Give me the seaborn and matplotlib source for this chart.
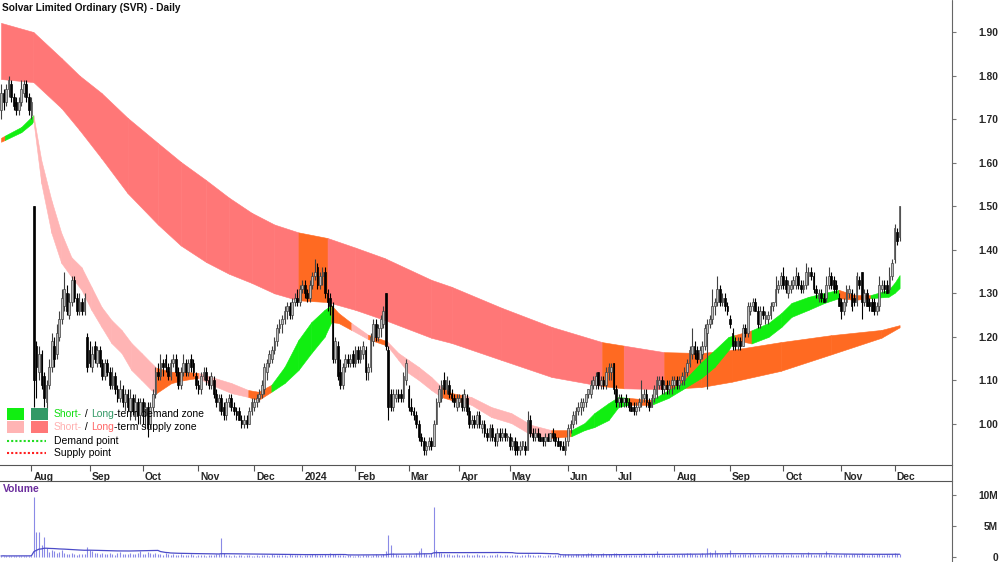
import matplotlib
matplotlib.use("Agg")
import matplotlib.pyplot as plt
import matplotlib.transforms as mtransforms
import numpy as np
import pandas as pd
import seaborn as sns
from matplotlib.lines import Line2D
from matplotlib.offsetbox import AnnotationBbox, HPacker, TextArea
from matplotlib.patches import Rectangle

sns.set_theme(style="white")
plt.rcParams["font.family"] = ["Liberation Sans", "DejaVu Sans"]

TITLE = "Solvar Limited Ordinary (SVR) - Daily"
START = "2023-07-14"
HOLIDAYS = ["2023-12-25", "2023-12-26", "2024-01-01", "2024-01-26",
            "2024-03-29", "2024-04-01", "2024-04-25", "2024-06-10"]

# daily prices in cents
OPEN = [172,176,174,177,178,175,174,172,174,176, 178,175,171,150,118,112,116,111,105,109,
        113,118,116,120,124,127,130,125,128,133, 129,126,128,126,120,117,113,118,114,117,
        114,111,114,112,109,111,108,106,108,105, 107,103,106,103,105,102,105,102,104,100,
        104,107,112,111,114,115,113,111,114,115, 112,109,112,114,112,115,114,111,109,108,
        111,112,110,109,110,107,105,106,104,102, 105,106,104,103,103,101,100,101,100,103,
        104,105,106,107,108,112,114,115,117,119, 122,123,124,126,127,125,128,129,128,131,
        132,130,129,132,134,136,132,134,135,130, 129,127,115,118,112,109,113,115,114,116,
        114,117,115,116,117,112,113,119,123,120, 122,123,130,117,107,104,106,107,107,106,
        110,108,104,103,102,100,97,96,94,95, 96,95,100,105,106,110,108,109,107,106,
        104,105,106,104,106,103,100,101,100,102, 99,100,98,97,99,97,96,98,97,98,
        97,97,95,96,95,94,95,95,94,101, 98,97,98,97,97,96,97,96,98,97,
        96,96,95,94,96,99,100,101,103,104, 104,105,107,107,109,109,112,109,110,109,
        112,112,114,108,105,106,105,106,105,104, 104,103,104,105,106,107,105,104,106,107,
        109,110,108,109,108,109,109,110,109,110, 110,112,114,116,118,117,115,116,118,121,
        123,124,127,128,131,128,129,127,124,121, 119,118,119,118,122,121,126,127,128,126,
        123,126,124,124,125,127,128,131,132,134, 133,130,131,132,132,134,132,131,132,134,
        135,134,131,129,130,129,129,132,134,133, 132,129,128,126,128,130,130,129,128,133,
        135,128,130,128,128,128,126,127,131,132, 132,131,134,138,144,143]
HIGH = [178,177,178,180,179,176,175,175,179,179, 179,176,175,150,119,118,117,112,110,115,
        121,120,123,126,131,135,132,130,134,134, 130,130,129,130,121,119,118,119,118,118,
        115,115,115,113,113,112,109,110,109,108, 108,108,107,107,106,106,106,105,105,105,
        108,113,114,116,115,116,114,115,116,116, 113,113,116,115,115,116,115,112,110,112,
        113,113,111,112,111,108,107,107,105,106, 107,107,105,104,104,102,102,102,104,106,
        106,107,108,110,114,115,117,118,120,123, 124,125,127,128,128,129,130,131,132,133,
        133,131,133,135,138,137,135,136,136,131, 130,128,120,119,115,114,116,116,116,117,
        118,118,118,119,118,114,121,124,124,123, 125,127,130,118,108,108,108,108,108,112,
        115,109,106,104,103,101,98,97,96,97, 97,101,106,109,110,112,111,110,108,107,
        107,107,107,108,107,104,102,102,103,103, 101,101,99,100,100,98,99,99,99,99,
        98,98,97,97,96,96,96,96,103,102, 99,99,99,98,97,98,98,98,99,98,
        97,96,96,97,100,101,103,104,105,106, 106,107,108,110,111,112,112,111,111,113,
        114,114,114,109,107,107,106,107,106,105, 105,105,106,110,108,108,106,107,109,111,
        111,111,110,110,110,111,111,111,111,112, 113,115,118,122,119,118,118,119,123,124,
        125,131,129,134,132,130,130,128,125,122, 120,120,120,123,123,128,128,129,129,127,
        127,127,126,126,128,128,134,133,135,136, 134,133,133,134,136,135,133,133,137,136,
        136,135,132,131,131,130,134,136,135,134, 133,130,129,129,132,132,131,130,135,134,
        135,131,131,129,129,129,128,134,133,133, 133,136,138,146,145,150]
LOW = [170,172,173,175,174,172,171,171,173,175, 174,171,170,104,106,110,108,104,103,108,
       112,113,115,119,123,126,125,124,127,128, 125,125,125,125,112,113,112,114,113,113,
       110,110,111,108,108,107,105,105,104,103, 103,101,102,101,100,100,100,99,97,99,
       103,106,110,110,111,112,110,110,113,111, 108,108,111,111,111,112,111,108,107,107,
       110,109,108,108,106,104,103,102,101,101, 104,103,102,101,101,99,99,99,100,102,
       103,104,105,106,107,110,113,114,116,118, 121,121,123,124,124,124,127,127,127,130,
       129,128,128,131,133,131,131,132,129,126, 125,114,114,110,108,108,112,113,113,113,
       113,114,114,115,110,110,112,118,119,119, 120,122,117,101,103,103,105,105,105,105,
       109,103,102,101,99,96,95,93,93,94, 94,95,100,104,105,107,107,106,105,104,
       103,104,103,103,102,99,99,99,99,99, 98,97,96,96,96,95,95,96,96,96,
       96,94,94,93,93,93,94,93,94,97, 96,96,96,96,95,95,96,96,96,95,
       95,94,94,93,95,98,99,100,102,102, 103,104,106,106,108,108,108,108,108,108,
       110,110,107,104,104,104,104,104,103,103, 102,102,103,104,105,104,103,104,105,106,
       108,107,107,107,107,107,108,108,108,109, 109,111,113,115,115,114,114,115,117,108,
       122,123,125,127,127,127,126,125,122,117, 117,117,117,118,120,120,125,126,126,122,
       122,124,123,123,124,126,127,130,131,131, 130,129,130,131,131,131,130,130,131,132,
       133,130,129,128,128,128,128,131,131,130, 130,127,124,125,127,129,126,127,127,131,
       124,127,127,126,126,125,125,126,130,130, 130,130,133,137,141,142]
CLOSE = [176,174,177,179,175,173,172,174,177,178, 175,172,174,110,113,116,109,106,109,113,
         119,115,121,124,129,131,126,128,133,129, 126,128,126,129,113,114,116,115,117,114,
         111,114,112,109,111,108,106,108,105,107, 104,106,103,105,102,105,103,104,100,104,
         107,112,111,114,113,113,111,114,115,112, 109,112,114,112,114,113,112,109,108,111,
         112,110,109,111,107,105,106,103,102,105, 106,104,103,102,101,100,101,100,103,105,
         105,106,107,109,113,114,116,117,119,122, 123,124,126,127,125,128,129,128,131,132,
         130,129,132,134,135,132,134,135,130,128, 127,115,119,111,109,113,115,114,115,114,
         117,115,117,118,112,113,120,123,120,122, 124,126,118,104,104,107,107,106,106,111,
         114,104,103,102,100,97,96,94,95,96, 95,100,105,108,109,108,110,107,106,105,
         106,106,104,107,103,100,101,100,102,100, 100,98,97,99,97,96,98,97,98,97,
         97,95,96,94,94,95,96,94,101,98, 97,98,97,96,96,97,96,98,97,96,
         95,95,94,96,99,100,102,103,104,105, 105,107,108,109,110,111,109,110,109,112,
         113,113,108,105,106,105,106,105,104,103, 103,104,105,107,107,105,104,106,108,110,
         110,108,109,108,109,110,110,109,110,111, 112,114,117,118,116,115,117,118,122,123,
         124,127,128,131,128,129,127,126,123,118, 118,119,118,122,121,127,127,128,126,123,
         126,125,125,125,127,128,131,132,134,132, 131,132,132,133,134,132,131,132,135,135,
         134,131,130,130,129,128,132,134,132,131, 131,127,126,128,131,131,127,128,134,132,
         128,130,127,127,126,126,127,132,132,131, 130,134,137,145,142,150]

# daily volume, in units of 10,000 shares
VOLUME = [18,22,15,20,25,17,14,21,19,23, 16,20,24,970,410,400,190,320,150,85,
          120,95,60,80,110,70,55,45,60,50, 40,55,45,50,160,110,90,70,60,55,
          65,50,45,70,55,40,60,75,50,45, 55,60,50,45,70,90,55,50,80,60,
          55,70,45,50,40,60,45,35,50,40, 30,45,35,40,30,50,35,25,40,30,
          35,25,30,40,35,45,55,300,70,40, 30,25,35,20,30,40,25,30,35,20,
          25,30,20,35,40,30,25,45,35,30, 40,30,35,25,45,30,40,35,30,25,
          35,40,30,45,50,35,40,30,45,40, 60,55,45,35,30,40,25,35,30,25,
          20,30,25,35,30,40,25,30,45,40, 35,50,90,360,200,60,45,35,30,40,
          35,45,30,40,60,100,140,70,50,40, 60,810,120,80,60,50,45,55,40,35,
          45,30,40,35,50,40,30,35,45,40, 30,35,25,40,30,35,45,30,25,35,
          30,25,35,40,30,25,35,30,45,40, 30,25,35,30,20,25,30,35,25,30,
          40,30,35,45,50,40,35,45,50,40, 55,45,60,70,50,40,55,45,60,50,
          45,55,60,70,50,40,35,45,30,40, 35,30,40,45,60,40,35,45,50,90,
          40,35,45,30,40,35,50,45,40,55, 50,60,70,55,45,40,50,60,45,140,
          80,70,120,60,50,45,55,60,120,50, 45,40,55,50,45,40,60,50,40,35,
          45,40,35,50,40,45,55,40,35,50, 40,35,45,30,40,35,50,45,40,80,
          45,40,35,50,45,40,90,55,40,35, 45,40,35,50,45,40,55,45,50,40,
          60,45,40,35,45,40,50,45,40,35, 45,40,50,60,55,50]

# long-term zone edges (day index, price) and colour runs
LT_X = [0, 12.8, 23.9, 31, 39.7, 50, 62, 71, 81, 90, 99, 108, 117.5, 129, 140, 151.5,
        170, 178, 197.7, 217.5, 237.5, 246, 262, 276.7, 288.6, 308, 328, 347.8, 355]
LT_HI = [1.921, 1.900, 1.840, 1.800, 1.760, 1.703, 1.645, 1.602, 1.560, 1.520, 1.485,
         1.458, 1.440, 1.427, 1.405, 1.381, 1.331, 1.315, 1.267, 1.223, 1.188, 1.180,
         1.165, 1.163, 1.170, 1.188, 1.204, 1.216, 1.227]
LT_LO = [1.792, 1.785, 1.725, 1.675, 1.610, 1.530, 1.458, 1.410, 1.372, 1.345, 1.324,
         1.300, 1.284, 1.280, 1.262, 1.239, 1.198, 1.186, 1.147, 1.108, 1.087, 1.082,
         1.080, 1.085, 1.097, 1.122, 1.160, 1.198, 1.222]
LT_RUNS = [("R", 12), ("O", 1), ("R", 7), ("O", 1), ("R", 1), ("O", 6)]

# short-term zone edges and colour runs
ST_X = [0, 1.5, 8, 12, 12.8, 15.9, 19.9, 23.8, 27.8, 31.8, 35.7, 39.7, 43.6, 47.6,
        51.5, 55.5, 59.4, 61.4, 67.3, 72.4, 78, 83.1, 91, 97.7, 101.7, 106.8, 112,
        117.5, 122.6, 127.8, 130.5, 133.3, 138.4, 145, 152.5, 157, 161, 165, 170, 174,
        178, 181.9, 185.8, 193.7, 201.6, 209.5, 217.4, 225.3, 230.5, 234.4, 240, 243.9,
        247.9, 257, 263.7, 268.8, 276.7, 281.9, 287.4, 289.8, 296.5, 303.2, 308.3,
        312.3, 319, 325.3, 331, 337.2, 343.5, 350.6, 353, 355]
ST_HI = [1.657, 1.662, 1.682, 1.705, 1.709, 1.606, 1.514, 1.439, 1.383, 1.360, 1.315,
         1.269, 1.239, 1.216, 1.186, 1.163, 1.140, 1.129, 1.120, 1.120, 1.117, 1.108,
         1.094, 1.078, 1.074, 1.090, 1.131, 1.193, 1.234, 1.262, 1.273, 1.255, 1.232,
         1.205, 1.190, 1.163, 1.147, 1.131, 1.108, 1.085, 1.071, 1.067, 1.062, 1.039,
         1.025, 0.998, 0.986, 0.986, 1.002, 1.025, 1.048, 1.062, 1.060, 1.055, 1.078,
         1.094, 1.142, 1.170, 1.200, 1.204, 1.215, 1.232, 1.255, 1.278, 1.292, 1.301,
         1.308, 1.296, 1.296, 1.308, 1.324, 1.342]
ST_LO = [1.648, 1.652, 1.670, 1.689, 1.696, 1.553, 1.439, 1.370, 1.338, 1.308, 1.262,
         1.223, 1.186, 1.163, 1.124, 1.101, 1.078, 1.071, 1.094, 1.101, 1.106, 1.090,
         1.071, 1.062, 1.055, 1.074, 1.094, 1.124, 1.163, 1.200, 1.234, 1.232, 1.216,
         1.195, 1.180, 1.147, 1.117, 1.101, 1.078, 1.062, 1.055, 1.051, 1.044, 1.016,
         1.002, 0.975, 0.968, 0.972, 0.986, 0.993, 1.009, 1.039, 1.044, 1.044, 1.060,
         1.078, 1.106, 1.131, 1.170, 1.193, 1.185, 1.200, 1.223, 1.246, 1.262, 1.278,
         1.289, 1.285, 1.289, 1.292, 1.301, 1.312]
ST_RUNS = [("O", 1), ("G", 3), ("P", 13), ("O", 3), ("P", 3), ("O", 2), ("G", 5),
           ("O", 2), ("P", 1), ("O", 1), ("P", 5), ("O", 2), ("P", 5), ("O", 1),
           ("G", 5), ("O", 1), ("G", 6), ("O", 1), ("G", 6), ("O", 2), ("G", 3)]

ZONE_COLOURS = {"R": "#ff7777", "O": "#ff6a22", "P": "#ffb4b4", "G": "#11ee11"}


def px_x(px):
    return px / 1000


def px_y(py):
    return 1 - py / 562


def draw_zone(axis, xs, hi, lo, runs):
    codes = "".join(c * n for c, n in runs)
    for k, code in enumerate(codes):
        col = ZONE_COLOURS[code]
        axis.fill_between(xs[k:k + 2], lo[k:k + 2], hi[k:k + 2], color=col,
                          ec=col, lw=0.4, zorder=1)


dates = pd.bdate_range(START, periods=len(CLOSE), freq="C", holidays=HOLIDAYS)
idx = np.arange(len(CLOSE))
o = np.array(OPEN) / 100
h = np.array(HIGH) / 100
l = np.array(LOW) / 100
c = np.array(CLOSE) / 100
vol = np.array(VOLUME) * 1e4

fig = plt.figure(figsize=(10, 5.62), dpi=100)
ax = fig.add_axes([0, px_y(465), 0.952, px_y(0) - px_y(465)])
axv = fig.add_axes([0, 0, 0.952, px_y(481)])

# zones
draw_zone(ax, LT_X, LT_HI, LT_LO, LT_RUNS)
draw_zone(ax, ST_X, ST_HI, ST_LO, ST_RUNS)

# candles
up = c >= o
ax.vlines(idx, l, h, colors=np.where(up, "#404040", "#000000"), lw=0.8, zorder=3)
body_lo = np.minimum(o, c)
body_h = np.maximum(np.abs(c - o), 0.003)
ax.bar(idx, body_h, bottom=body_lo, width=0.7,
       color=np.where(up, "#bdbdbd", "#000000"),
       edgecolor=np.where(up, "#404040", "#000000"), linewidth=0.5, zorder=4)

ax.set_xlim(-0.4, 375.7)
ax.set_ylim(0.9059, 1.9735)

# month ticks
month_idx = [k for k in range(1, len(dates)) if dates[k].month != dates[k - 1].month]
month_lab = [str(dates[k].year) if dates[k].month == 1 else dates[k].strftime("%b")
             for k in month_idx]
ax.set_xticks(month_idx)
ax.set_xticklabels(month_lab, ha="left", fontweight="bold")
ax.tick_params(axis="x", direction="out", length=4, width=0.8, color="#555555",
               pad=1, labelsize=7.4, bottom=True)
shift = mtransforms.ScaledTranslation(2 / 100, 0, fig.dpi_scale_trans)
for lab in ax.get_xticklabels():
    lab.set_transform(lab.get_transform() + shift)

yt = np.round(np.arange(1.0, 1.95, 0.1), 2)
ax.yaxis.tick_right()
ax.set_yticks(yt)
ax.set_yticklabels([f"{v:.2f}" for v in yt], fontweight="bold", ha="right")
ax.tick_params(axis="y", direction="out", length=3, width=0.8, color="#777777",
               pad=30, labelsize=7.4, right=True, left=False)
for side in ["top", "left", "right"]:
    ax.spines[side].set_visible(False)
ax.spines["bottom"].set_color("#555555")
ax.spines["bottom"].set_linewidth(0.8)
ax.grid(False)

# volume panel
axv.vlines(idx, 0, vol, colors="#8a8ae6", lw=0.8)
vol_ma = pd.Series(vol).rolling(50, min_periods=1).mean()
sns.lineplot(x=idx, y=vol_ma.values, ax=axv, color="#4b4bc8", lw=0.9)
axv.set_xlim(-0.4, 375.7)
axv.set_ylim(-0.79e6, 12.2e6)
axv.set_xticks([])
axv.yaxis.tick_right()
axv.set_yticks([0, 5e6, 10e6])
axv.set_yticklabels(["0", "5M", "10M"], fontweight="bold", ha="right")
axv.tick_params(axis="y", direction="out", length=3, width=0.8, color="#777777",
                pad=30, labelsize=7.4, right=True, left=False)
for side in ["left", "right", "bottom"]:
    axv.spines[side].set_visible(False)
axv.spines["top"].set_color("#555555")
axv.spines["top"].set_linewidth(0.8)
axv.grid(False)
fig.text(px_x(3), px_y(489), "Volume", color="#6a2c9c", fontsize=7.4,
         fontweight="bold", va="center", ha="left")

# right-hand axis line
fig.add_artist(Line2D([0.952, 0.952], [0, 1], transform=fig.transFigure,
                      color="#666666", lw=0.8))

# title
fig.text(px_x(2), px_y(8), TITLE, fontsize=7.3, fontweight="bold",
         va="center", ha="left", color="#111111")

# legend
legend_rows = [
    (414, "#11ee11", "#339966",
     [("Short-", "#11dd11"), (" / ", "#000000"), ("Long", "#339966"),
      ("-term demand zone", "#000000")]),
    (427, "#ffb4b4", "#ff7777",
     [("Short-", "#ffb0b0"), (" / ", "#000000"), ("Long", "#ff6666"),
      ("-term supply zone", "#000000")]),
]
for row_y, c1, c2, parts in legend_rows:
    for x0, col in [(7, c1), (31, c2)]:
        fig.add_artist(Rectangle((px_x(x0), px_y(row_y + 6)), px_x(17), 12 / 562,
                                 transform=fig.transFigure, color=col, lw=0))
    box = HPacker(children=[TextArea(t, textprops=dict(color=col, fontsize=7.5))
                            for t, col in parts], align="baseline", pad=0, sep=0)
    fig.add_artist(AnnotationBbox(box, (px_x(54), px_y(row_y)), xycoords="figure fraction",
                                  box_alignment=(0, 0.5), frameon=False, pad=0))

for row_y, col, label in [(441, "#22dd22", "Demand point"), (453, "#ff2020", "Supply point")]:
    fig.add_artist(Line2D([px_x(7), px_x(46)], [px_y(row_y)] * 2, transform=fig.transFigure,
                          color=col, lw=1.5, linestyle=(0, (1, 1))))
    fig.text(px_x(54), px_y(row_y), label, fontsize=7.5, va="center", ha="left",
             color="#000000")

fig.savefig("out.png", dpi=100)
